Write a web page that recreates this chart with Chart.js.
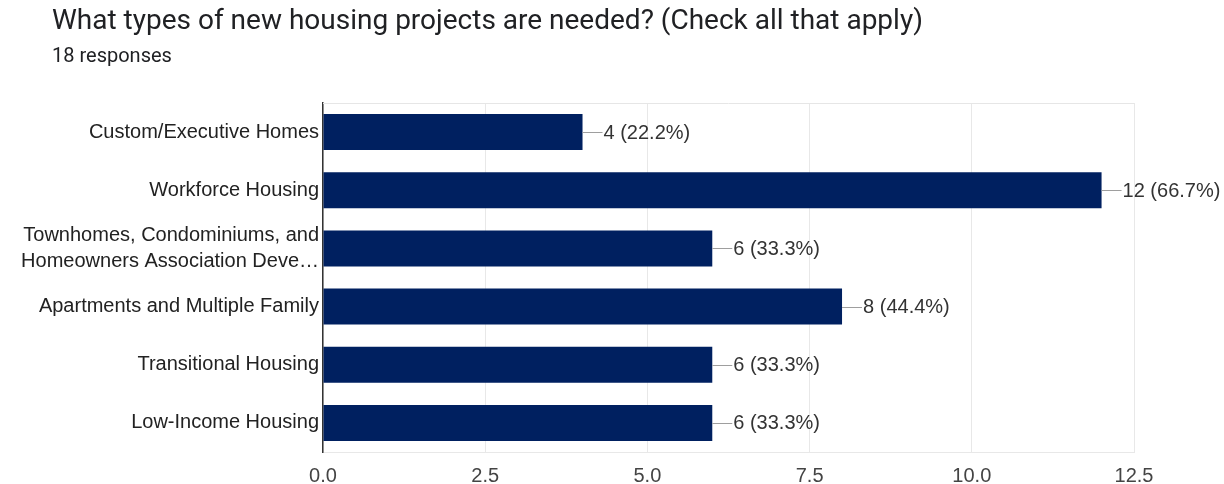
<!DOCTYPE html>
<html>
<head>
<meta charset="utf-8">
<script src="https://cdn.jsdelivr.net/npm/chart.js@4/dist/chart.umd.min.js"></script>
<style>
  html, body { margin: 0; padding: 0; background: #fff; }
  #housingChart { display: block; }
</style>
</head>
<body>
<canvas id="housingChart" width="1224" height="484"></canvas>
<script>
const questionTitle = 'What types of new housing projects are needed? (Check all that apply)';
const responseCount = 18;

const categories = [
    'Custom/Executive Homes',
    'Workforce Housing',
    ['Townhomes, Condominiums, and', 'Homeowners Association Deve…'],
    'Apartments and Multiple Family',
    'Transitional Housing',
    'Low-Income Housing'
];
const counts = [4, 12, 6, 8, 6, 6];
const xTicks = [0, 2.5, 5, 7.5, 10, 12.5];

const labelFont = '20px "Liberation Sans", Arial, sans-serif';

// heading + "N responses" line above the plot
const headerPlugin = {
    id: 'header',
    beforeDraw(chart) {
        const ctx = chart.ctx;
        ctx.save();
        ctx.textAlign = 'left';
        ctx.textBaseline = 'alphabetic';
        ctx.fillStyle = '#202124';
        ctx.font = '28px Roboto, sans-serif';
        ctx.fillText(questionTitle, 52, 29);
        ctx.font = '20px Roboto, sans-serif';
        ctx.fillText(responseCount + ' responses', 52, 62);
        ctx.restore();
    }
};

// light frame on top of the plot area
const framePlugin = {
    id: 'frame',
    beforeDatasetsDraw(chart) {
        const { ctx, chartArea } = chart;
        ctx.save();
        ctx.strokeStyle = '#e6e6e6';
        ctx.lineWidth = 1;
        ctx.beginPath();
        ctx.moveTo(chartArea.left, chartArea.top + 0.5);
        ctx.lineTo(chartArea.right, chartArea.top + 0.5);
        ctx.stroke();
        ctx.restore();
    }
};

// "n (pct%)" labels with a short leader line after each bar
const valueLabelPlugin = {
    id: 'valueLabels',
    afterDatasetsDraw(chart) {
        const ctx = chart.ctx;
        const meta = chart.getDatasetMeta(0);
        ctx.save();
        ctx.font = labelFont;
        ctx.textBaseline = 'middle';
        ctx.textAlign = 'left';
        meta.data.forEach((bar, i) => {
            const v = counts[i];
            const pct = (v / responseCount * 100).toFixed(1);
            ctx.strokeStyle = '#9e9e9e';
            ctx.lineWidth = 1;
            ctx.beginPath();
            ctx.moveTo(bar.x, Math.round(bar.y) + 0.5);
            ctx.lineTo(bar.x + 20, Math.round(bar.y) + 0.5);
            ctx.stroke();
            ctx.fillStyle = '#333';
            ctx.fillText(v + ' (' + pct + '%)', bar.x + 21, bar.y + 1);
        });
        ctx.restore();
    }
};

new Chart(document.getElementById('housingChart'), {
    type: 'bar',
    data: {
        labels: categories,
        datasets: [{
            data: counts,
            backgroundColor: '#002060',
            borderWidth: 0,
            categoryPercentage: 1,
            barPercentage: 0.62
        }]
    },
    plugins: [headerPlugin, framePlugin, valueLabelPlugin],
    options: {
        indexAxis: 'y',
        responsive: false,
        animation: false,
        layout: { padding: { top: 103, right: 90, left: 0, bottom: 0 } },
        plugins: {
            legend: { display: false },
            tooltip: { enabled: false }
        },
        scales: {
            x: {
                min: 0,
                max: 12.5,
                afterBuildTicks(scale) {
                    scale.ticks = xTicks.map(v => ({ value: v }));
                },
                afterFit(scale) { scale.height = 32; },
                grid: { color: '#e8e8e8', drawTicks: false },
                border: { color: '#e8e8e8' },
                ticks: {
                    padding: 12,
                    color: '#444',
                    font: { family: '"Liberation Sans", Arial, sans-serif', size: 20 },
                    callback: v => Number(v).toFixed(1)
                }
            },
            y: {
                afterFit(scale) { scale.width = 323; },
                grid: { display: false, drawTicks: false },
                border: { color: '#333', width: 1.5 },
                ticks: {
                    padding: 4,
                    color: '#222',
                    font: { family: '"Liberation Sans", Arial, sans-serif', size: 20, lineHeight: 1.3 }
                }
            }
        }
    }
});
</script>
</body>
</html>
